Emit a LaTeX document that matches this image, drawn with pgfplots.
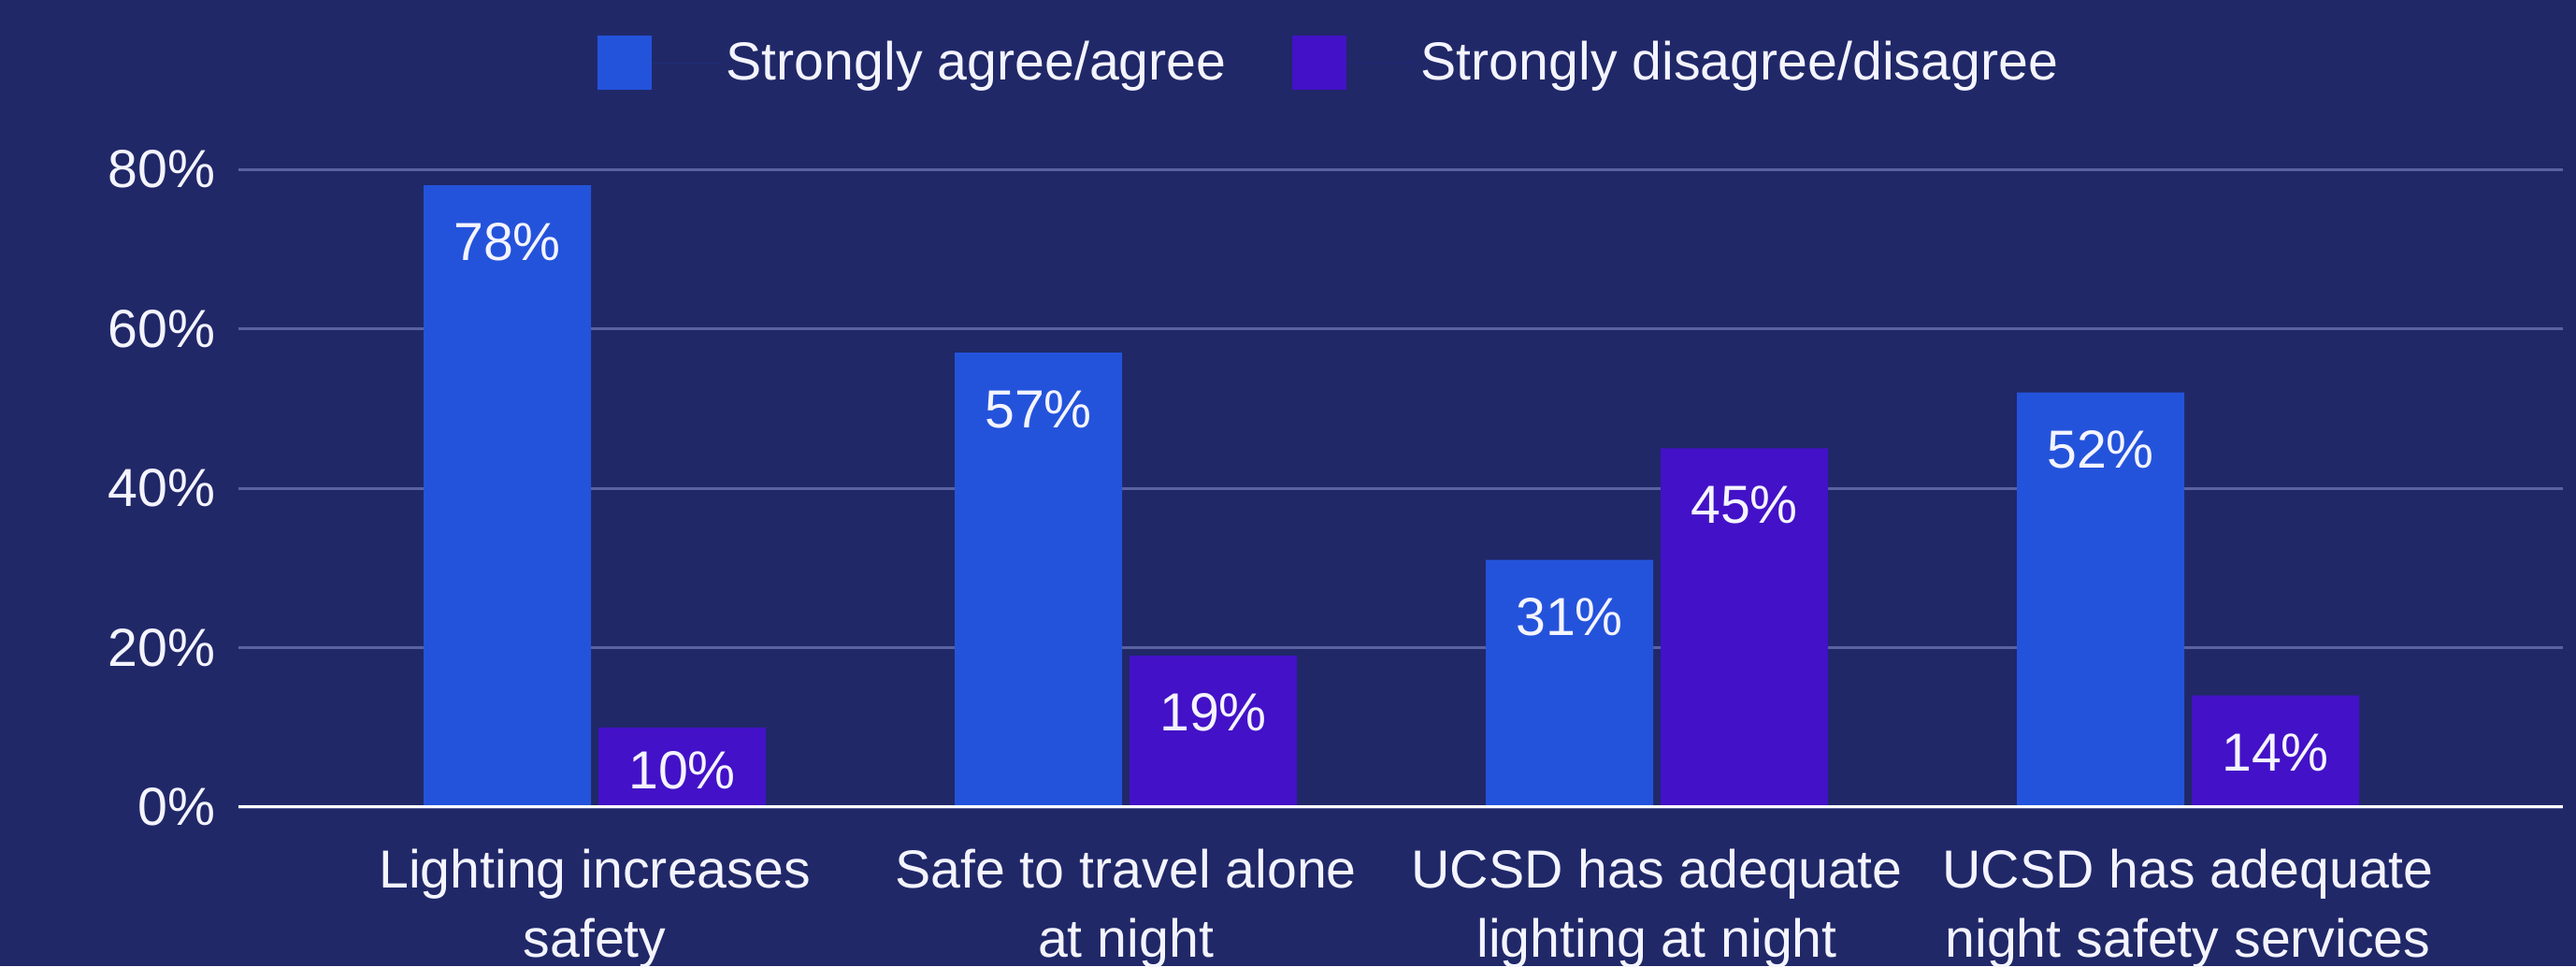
\documentclass[border=0pt]{standalone}
\usepackage{pgfplots}
\pgfplotsset{compat=1.18}
\usepackage{fontspec}
\setmainfont{Liberation Sans}
\definecolor{bg}{HTML}{202868}
\definecolor{cagree}{HTML}{2453DB}
\definecolor{cdis}{HTML}{4311C7}
\definecolor{gridc}{HTML}{5A62A2}
\definecolor{txt}{HTML}{F4F4FF}
\newcommand{\lblfont}{\fontsize{16.3}{20.8}\selectfont}
\begin{document}
\begin{tikzpicture}
\useasboundingbox (0,0) rectangle (27.55cm,10.33cm);
\clip (0,0) rectangle (27.55cm,10.33cm);
\fill[bg] (0,0) rectangle (27.55cm,10.33cm);
\begin{axis}[
  at={(2.55cm,1.70cm)}, anchor=south west,
  scale only axis, width=24.86cm, height=6.82cm,
  xmin=-0.671, xmax=3.706, ymin=0, ymax=80,
  ybar=0.08cm, bar width=1.79cm,
  axis line style={draw=none},
  major tick length=0pt,
  ymajorgrids, major grid style={color=gridc, line width=0.85pt},
  ytick={0,20,40,60,80},
  yticklabel={\pgfmathprintnumber{\tick}\%},
  /pgf/number format/assume math mode=true,
  yticklabel style={font=\lblfont, text=txt, xshift=-1.2mm},
  xtick={0,1,2,3},
  xticklabels={{Lighting increases\\safety},{Safe to travel alone\\at night},{UCSD has adequate\\lighting at night},{UCSD has adequate\\night safety services}},
  xticklabel style={align=center, font=\lblfont, text=txt, yshift=-3.3mm},
  nodes near coords={\pgfmathprintnumber{\pgfplotspointmeta}\%},
  visualization depends on={y \as \rawy},
  every node near coord/.append style={font=\lblfont, text=txt, anchor=center, yshift={\rawy<12 ? -13 : -17.3}},
  legend columns=2,
  legend style={at={(0.47,1.167)}, anchor=center, draw=none, fill=none, text=txt, font=\lblfont,
    /tikz/every even column/.append style={column sep=6.3mm}},
  legend image code/.code={\fill[#1] (0cm,-0.29cm) rectangle (0.58cm,0.29cm); \path (0,0) -- (1.31cm,0);},
]
\addplot[fill=cagree, draw=none] coordinates {(0,78) (1,57) (2,31) (3,52)};
\addplot[fill=cdis, draw=none] coordinates {(0,10) (1,19) (2,45) (3,14)};
\legend{Strongly agree/agree, Strongly disagree/disagree}
\draw[white, line width=1.2pt] (rel axis cs:0,0) -- (rel axis cs:1,0);
\end{axis}
\end{tikzpicture}
\end{document}
